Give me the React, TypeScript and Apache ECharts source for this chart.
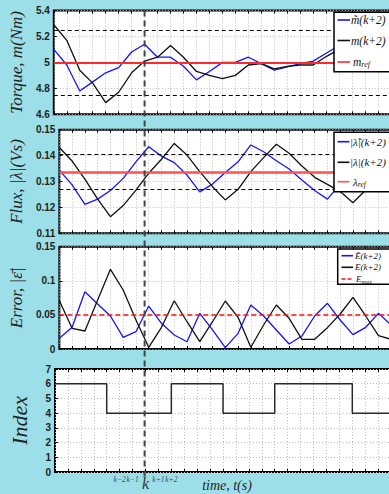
import React, { useEffect, useRef } from "react";
import * as echarts from "echarts";

// Sampling instants (one grid column per control period)
const timeSteps = [0, 1, 2, 3, 4, 5, 6, 7, 8, 9, 10, 11, 12, 13, 14, 15, 16, 17, 18, 19, 20, 21, 22, 23, 24, 25, 26, 27];

// Torque: predicted (tilde) and measured, with reference and hysteresis band
const torqueEst = [5.10, 4.98, 4.78, 4.85, 4.92, 4.96, 5.08, 5.14, 5.04, 5.04, 4.97, 4.865, 4.93, 5.00, 5.00, 5.04, 4.99, 4.94, 4.965, 4.99, 5.01, 5.07, 5.13, 5.15, 5.10, 5.04, 4.99, 4.97];
const torque = [5.29, 5.17, 4.94, 4.84, 4.69, 4.77, 4.92, 5.01, 5.04, 5.13, 5.04, 4.93, 4.90, 4.875, 4.90, 4.98, 4.99, 4.95, 4.97, 4.98, 4.98, 5.045, 5.10, 5.12, 5.08, 5.02, 4.98, 4.96];
const torqueRef = 5.0;
const torqueBand = [5.25, 4.75];

// Flux magnitude
const fluxEst = [0.1344, 0.1287, 0.1212, 0.1232, 0.1265, 0.1312, 0.1376, 0.1434, 0.1398, 0.1373, 0.1325, 0.126, 0.129, 0.1335, 0.1376, 0.1441, 0.1415, 0.138, 0.1348, 0.1306, 0.1265, 0.1232, 0.129, 0.1335, 0.138, 0.1415, 0.140, 0.138];
const flux = [0.1431, 0.1379, 0.1309, 0.1232, 0.1164, 0.1207, 0.1267, 0.1332, 0.1386, 0.1447, 0.1402, 0.1338, 0.128, 0.1229, 0.127, 0.1338, 0.1392, 0.1444, 0.1409, 0.136, 0.1316, 0.1289, 0.1261, 0.1218, 0.1267, 0.131, 0.1355, 0.139];
const fluxRef = 0.1337;
const fluxBand = [0.1405, 0.127];

// Cost function error
const errorEst = [0.0157, 0.0318, 0.084, 0.066, 0.0484, 0.0171, 0.0254, 0.063, 0.0377, 0.0205, 0.0107, 0.0523, 0.0279, 0.002, 0.023, 0.0645, 0.0484, 0.0279, 0.0073, 0.019, 0.0484, 0.067, 0.0425, 0.021, 0.0318, 0.0523, 0.035, 0.03];
const error = [0.0708, 0.0303, 0.0264, 0.0718, 0.1168, 0.0865, 0.0425, 0.0025, 0.0318, 0.0708, 0.040, 0.0107, 0.040, 0.0704, 0.0464, 0.0025, 0.0352, 0.0645, 0.045, 0.0142, 0.0142, 0.0313, 0.0513, 0.0758, 0.0484, 0.0195, 0.014, 0.03];
const errorMax = 0.05;

// Selected voltage vector index (held over each period)
const switchIndex = [6, 6, 6, 6, 4, 4, 4, 4, 4, 6, 6, 6, 6, 4, 4, 4, 4, 6, 6, 6, 6, 6, 6, 4, 4, 4, 4, 4];

// Current instant and its neighbouring tick labels
const kIndex = 7;
const kTickLabels = ["k\u22122", "k\u22121", "k", "k+1", "k+2"];

// Y axis ranges
const torqueAxis = { min: 4.6, max: 5.4, interval: 0.2 };
const fluxAxis = { min: 0.11, max: 0.15, interval: 0.01 };
const errorAxis = { min: 0, max: 0.15, interval: 0.05 };
const indexAxis = { min: 0, max: 7, interval: 1 };

const BG = "#9ddfe9";
const BLUE = "#1414ff";
const BLACK = "#111";
const RED = "#ff2a2a";
const SERIF = "'Liberation Serif', 'DejaVu Serif', serif";
const SANS = "'Liberation Sans', Arial, sans-serif";

const PLOT_LEFT = 53;
const STEP_PX = 13;
const X_MAX = 27;
const gridTops = [10.5, 129.7, 246.7, 369];
const gridHeights = [103.8, 103.6, 102.3, 103];

const pairs = (ys: number[]) => timeSteps.map((t, i) => [t, ys[i]]);

export default function App() {
  const ref = useRef<HTMLDivElement>(null);

  useEffect(() => {
    if (!ref.current) return;
    const chart = echarts.init(ref.current, undefined, { renderer: "svg" });

    const grids = gridTops.map((top, g) => ({
      left: PLOT_LEFT,
      width: X_MAX * STEP_PX,
      top,
      height: gridHeights[g],
      show: true,
      backgroundColor: "#fff",
      borderColor: "#000",
      borderWidth: 2,
    }));

    const dotted = { show: true, lineStyle: { color: "#bdbdbd", type: [1, 2] as any, width: 1 } };

    const xAxes: any[] = [];
    gridTops.forEach((_, g) => {
      const bottom: any = {
        type: "value",
        gridIndex: g,
        min: 0,
        max: X_MAX,
        interval: 1,
        position: "bottom",
        axisLine: { show: false },
        axisTick: { show: true, inside: true, length: 3, lineStyle: { color: "#000", width: 1 } },
        splitLine: dotted,
        axisLabel: { show: false },
      };
      if (g === 3) {
        bottom.axisLabel = {
          show: true,
          margin: 3,
          interval: 0,
          formatter: (v: number) => {
            const j = v - kIndex + 2;
            if (j < 0 || j > 4) return "";
            return j === 2 ? `{big|${kTickLabels[j]}}` : `{s|${kTickLabels[j]}}`;
          },
          rich: {
            s: { fontFamily: SERIF, fontStyle: "italic", fontSize: 7.5, color: "#3b4a66" },
            big: { fontFamily: SERIF, fontStyle: "italic", fontSize: 16, color: "#333" },
          },
        };
      }
      xAxes.push(bottom);
      xAxes.push({
        type: "value",
        gridIndex: g,
        min: 0,
        max: X_MAX,
        interval: 1,
        position: "top",
        axisLine: { show: false },
        axisTick: { show: true, inside: true, length: 3, lineStyle: { color: "#000", width: 1 } },
        splitLine: { show: false },
        axisLabel: { show: false },
      });
    });

    const yNames = ["Torque, m(Nm)", "Flux, |\u03bb|(Vs)", "Error, |\u03b5\u0304|", "Index"];
    const yRanges = [torqueAxis, fluxAxis, errorAxis, indexAxis];
    const yAxes = yRanges.map((r, g) => ({
      type: "value",
      gridIndex: g,
      min: r.min,
      max: r.max,
      interval: r.interval,
      axisLine: { show: false },
      axisTick: { show: true, inside: true, length: 3, lineStyle: { color: "#000" } },
      axisLabel: { color: "#222", fontSize: 10, fontWeight: "bold", fontFamily: SANS, margin: 4 },
      splitLine: dotted,
      name: yNames[g],
      nameLocation: "middle",
      nameRotate: 90,
      nameGap: g === 3 ? 25 : 27,
      nameTextStyle: {
        fontFamily: SERIF,
        fontStyle: "italic",
        fontSize: g === 3 ? 22 : 17,
        color: "#222",
      },
    }));

    const bandLine = (v: number) => ({ yAxis: v, lineStyle: { color: "#000", width: 1.2, type: [4, 3] } });
    const refLines = (data: any[]) => ({
      silent: true,
      symbol: "none",
      precision: 6,
      label: { show: false },
      data,
    });
    const line = (name: string, g: number, ys: number[], color: string, extra: any = {}) => ({
      name,
      type: "line",
      xAxisIndex: g * 2,
      yAxisIndex: g,
      data: pairs(ys),
      symbol: "none",
      lineStyle: { color, width: 1.3 },
      itemStyle: { color },
      ...extra,
    });

    const series: any[] = [
      line("m_est", 0, torqueEst, BLUE),
      line("m", 0, torque, BLACK, {
        markLine: refLines([
          bandLine(torqueBand[0]),
          bandLine(torqueBand[1]),
          { yAxis: torqueRef, lineStyle: { color: RED, width: 2, type: "solid" } },
        ]),
      }),
      line("flux_est", 1, fluxEst, BLUE),
      line("flux", 1, flux, BLACK, {
        markLine: refLines([
          bandLine(fluxBand[0]),
          bandLine(fluxBand[1]),
          { yAxis: fluxRef, lineStyle: { color: "#ff5050", width: 2.5, type: "solid" } },
        ]),
      }),
      line("err_est", 2, errorEst, BLUE),
      line("err", 2, error, BLACK, {
        markLine: refLines([{ yAxis: errorMax, lineStyle: { color: "#ff1010", width: 1.5, type: [5, 3] } }]),
      }),
      line("index", 3, switchIndex, "#222", { step: "end", lineStyle: { color: "#2a2a2a", width: 1.5 } }),
    ];

    chart.setOption({
      animation: false,
      backgroundColor: BG,
      grid: grids,
      xAxis: xAxes,
      yAxis: yAxes,
      series,
    });

    // Legend boxes drawn as graphics, above the plotted lines
    const Z = 100;
    const legendText = (x: number, y: number, text: string, size: number, rich?: any) => ({
      type: "text",
      z: Z + 2,
      x,
      y,
      style: {
        text,
        fontFamily: SERIF,
        fontStyle: "italic",
        fontSize: size,
        fill: "#111",
        verticalAlign: "middle",
        align: "left",
        rich,
      },
    });
    const legendLine = (x1: number, x2: number, y: number, color: string, dash?: number[]) => ({
      type: "line",
      z: Z + 1,
      shape: { x1, y1: y, x2, y2: y },
      style: { stroke: color, lineWidth: 1.6, lineDash: dash },
    });
    const legendBox = (x: number, y: number, w: number, h: number) => ({
      type: "rect",
      z: Z,
      shape: { x, y, width: w, height: h },
      style: { fill: "#fff", stroke: "#000", lineWidth: 1.5 },
    });
    const subRich = (size: number) => ({
      b: { fontFamily: SERIF, fontStyle: "italic", fontSize: size, fill: "#111" },
      sub: { fontFamily: SERIF, fontStyle: "italic", fontSize: size * 0.7, fill: "#111", padding: [5, 0, 0, 0] },
    });

    const kx = chart.convertToPixel({ xAxisIndex: 0 } as any, kIndex) as unknown as number;

    chart.setOption({
      graphic: [
        legendBox(334, 12.3, 80, 59.4),
        legendLine(337.5, 350, 20, BLUE),
        legendText(351, 20, "m\u0303(k+2)", 11.5),
        legendLine(337.5, 350, 40.5, BLACK),
        legendText(351, 40.5, "m(k+2)", 11.5),
        legendLine(337.5, 350, 62, RED),
        legendText(353, 62, "{b|m}{sub|ref}", 11.5, subRich(11.5)),

        legendBox(334, 132.3, 80, 59.4),
        legendLine(337.5, 349.5, 141.7, BLUE),
        legendText(350, 141.7, "|\u03bb\u0303|(k+2)", 11),
        legendLine(337.5, 349.5, 162.3, BLACK),
        legendText(350, 162.3, "|\u03bb|(k+2)", 11),
        legendLine(337.5, 349.5, 181.7, "#ff5050"),
        legendText(353, 181.7, "{b|\u03bb}{sub|ref}", 11, subRich(11)),

        legendBox(337.7, 249, 80, 35.3),
        legendLine(341.5, 353, 255.7, BLUE),
        legendText(355, 255.7, "E\u0303(k+2)", 9),
        legendLine(341.5, 353, 267.3, BLACK),
        legendText(355, 267.3, "E(k+2)", 9),
        legendLine(341.5, 353, 279, "#ff1010", [4, 2]),
        legendText(356, 279, "{b|E}{sub|max}", 9, subRich(9)),

        {
          type: "line",
          z: Z + 10,
          shape: { x1: kx, y1: 10.5, x2: kx, y2: 480 },
          style: { stroke: "#444", lineWidth: 2, lineDash: [6, 4] },
        },
        {
          type: "text",
          z: Z + 10,
          x: 227,
          y: 485,
          style: {
            text: "time, t(s)",
            fontFamily: SERIF,
            fontStyle: "italic",
            fontSize: 14,
            fill: "#222",
            align: "center",
            verticalAlign: "middle",
          },
        },
      ],
    });

    return () => chart.dispose();
  }, []);

  return (
    <div
      style={{
        position: "fixed",
        left: 0,
        top: 0,
        width: 389,
        height: 494,
        overflow: "hidden",
        background: BG,
      }}
    >
      <div ref={ref} style={{ width: 440, height: 494 }} />
    </div>
  );
}
